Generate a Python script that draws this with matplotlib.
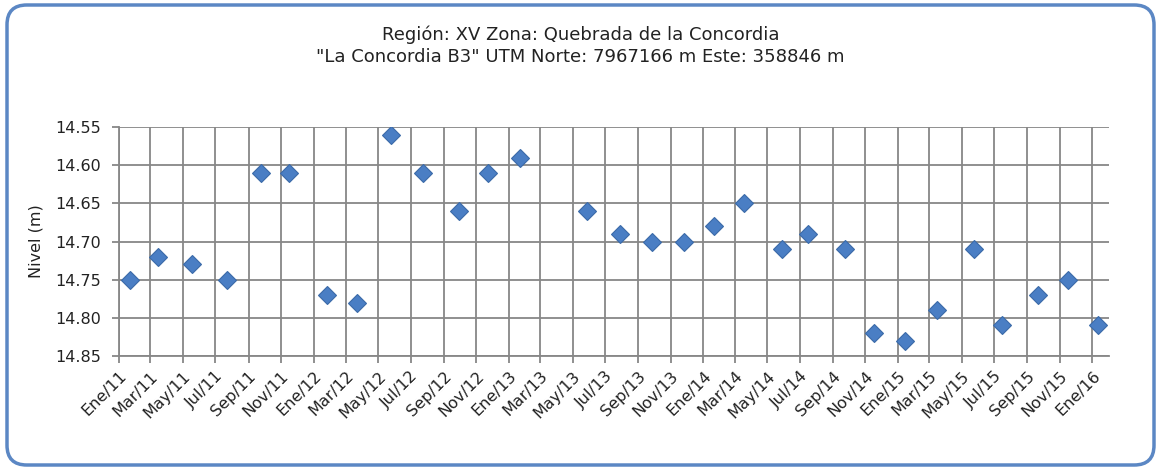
import matplotlib
matplotlib.use("Agg")
import matplotlib.pyplot as plt
from matplotlib.patches import FancyBboxPatch
import pandas as pd

plt.rcParams["font.family"] = ["DejaVu Sans"]

# fechas de medicion y nivel del agua
fechas = ["2011-01-21", "2011-03-16", "2011-05-17", "2011-07-22", "2011-09-24",
          "2011-11-16", "2012-01-26", "2012-03-22", "2012-05-25", "2012-07-25",
          "2012-09-29", "2012-11-24", "2013-01-23", "2013-05-27", "2013-07-29",
          "2013-09-27", "2013-11-26", "2014-01-21", "2014-03-19", "2014-05-29",
          "2014-07-16", "2014-09-23", "2014-11-18", "2015-01-15", "2015-03-15",
          "2015-05-24", "2015-07-16", "2015-09-20", "2015-11-17", "2016-01-12"]
nivel = [14.75, 14.72, 14.73, 14.75, 14.61, 14.61, 14.77, 14.78, 14.56, 14.61,
         14.66, 14.61, 14.59, 14.66, 14.69, 14.70, 14.70, 14.68, 14.65, 14.71,
         14.69, 14.71, 14.82, 14.83, 14.79, 14.71, 14.81, 14.77, 14.75, 14.81]
meses = ["Ene", "Mar", "May", "Jul", "Sep", "Nov"]
y_ticks = [14.55, 14.60, 14.65, 14.70, 14.75, 14.80, 14.85]

fechas = pd.to_datetime(fechas)
tick_fechas = pd.date_range("2011-01-01", "2016-01-01", freq="2MS")
tick_labels = [f"{meses[(d.month - 1) // 2]}/{d.year % 100:02d}" for d in tick_fechas]

fig = plt.figure(figsize=(11.61, 4.70), dpi=100)
ax = fig.add_axes([119 / 1161, 1 - 356 / 470, 990 / 1161, 229 / 470])

# marco redondeado del grafico
marco = FancyBboxPatch((7 / 1161, 5 / 470), 1147 / 1161, 460 / 470,
                       boxstyle="round,pad=0,rounding_size=0.017",
                       transform=fig.transFigure, facecolor="none",
                       edgecolor="#5B87C4", linewidth=2.5, mutation_aspect=1161 / 470)
fig.patches.append(marco)

gris = "#878787"
ax.plot(fechas, nivel, linestyle="none", marker="D", markersize=9,
        markerfacecolor="#4A7EC4", markeredgecolor="#3B6AA8", markeredgewidth=0.8,
        zorder=3)

ax.set_xlim(pd.Timestamp("2011-01-01"), pd.Timestamp("2016-02-01"))
ax.set_ylim(14.85, 14.55)
ax.set_yticks(y_ticks)
ax.set_yticklabels([f"{v:.2f}" for v in y_ticks])
ax.set_xticks(tick_fechas)
ax.set_xticklabels(tick_labels, rotation=45, ha="right", rotation_mode="anchor")

ax.grid(True, color=gris, linewidth=1.3)
ax.set_axisbelow(True)
for lado in ["top", "right"]:
    ax.spines[lado].set_visible(False)
for lado in ["left", "bottom"]:
    ax.spines[lado].set_color(gris)
    ax.spines[lado].set_linewidth(1.3)
ax.tick_params(axis="both", colors=gris, length=5, width=1.3, labelsize=11.5,
               labelcolor="#222222")
ax.tick_params(axis="y", pad=8)
ax.tick_params(axis="x", pad=4)

ax.set_ylabel("Nivel (m)", fontsize=11.5, color="#222222", labelpad=8)

fig.text(0.5, 1 - 35 / 470, "Región: XV Zona: Quebrada de la Concordia",
         ha="center", va="center", fontsize=13, color="#222222")
fig.text(0.5, 1 - 57 / 470, '"La Concordia B3" UTM Norte: 7967166 m Este: 358846 m',
         ha="center", va="center", fontsize=13, color="#222222")

fig.savefig("out.png", dpi=100)
